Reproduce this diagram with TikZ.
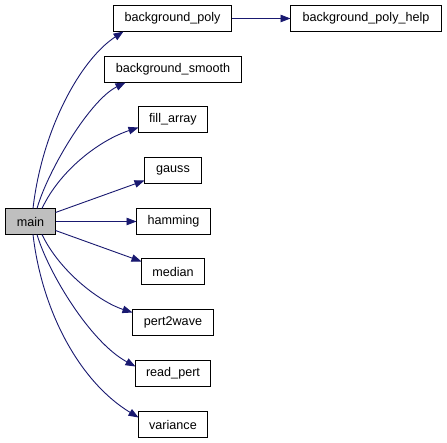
\documentclass[tikz,border=0pt]{standalone}
\usepackage{fontspec}
\setmainfont{Liberation Sans}
\usetikzlibrary{arrows.meta}
\definecolor{edgeblue}{HTML}{191970}
\definecolor{maingray}{HTML}{BFBFBF}
\tikzset{
  funcbox/.style={draw=black, line width=1pt, fill=white, inner sep=0pt, outer sep=0pt, minimum height=26pt, font=\fontsize{12.6pt}{15pt}\selectfont},
  calledge/.style={draw=edgeblue, line width=0.9pt, -{Triangle[length=10pt,width=7.5pt]}},
}
\begin{document}
\begin{tikzpicture}[x=1pt,y=-1pt]
\fill[white] (0,0) rectangle (447,443);
\useasboundingbox (0,0) rectangle (447,443);
\node[funcbox, fill=maingray, minimum width=50pt] (main) at (30.5,221.5) {main};
\node[funcbox, minimum width=118pt] (bgpoly) at (172.5,18.5) {background\_poly};
\node[funcbox, minimum width=151pt] (bgpolyhelp) at (366,18.5) {background\_poly\_help};
\node[funcbox, minimum width=137pt] (bgsmooth) at (173,69.5) {background\_smooth};
\node[funcbox, minimum width=69pt] (fill) at (173,119.5) {fill\_array};
\node[funcbox, minimum width=57pt] (gauss) at (173,170.5) {gauss};
\node[funcbox, minimum width=74pt] (hamming) at (173.5,221.5) {hamming};
\node[funcbox, minimum width=63pt] (median) at (173,271.5) {median};
\node[funcbox, minimum width=81pt] (pert) at (173,322.5) {pert2wave};
\node[funcbox, minimum width=75pt] (readpert) at (173,373.5) {read\_pert};
\node[funcbox, minimum width=69pt] (variance) at (173,424.5) {variance};

\draw[calledge] (bgpoly.east) -- (bgpolyhelp.west);
\draw[calledge] ([xshift=2.5pt]main.north) .. controls (42,130) and (80,60) .. ([xshift=10pt]bgpoly.south west);
\draw[calledge] ([xshift=6.5pt]main.north) .. controls (48,170) and (90,100) .. ([xshift=21pt]bgsmooth.south west);
\draw[calledge] ([xshift=11.5pt]main.north) .. controls (60,170) and (100,140) .. ([yshift=5pt]fill.south west);
\draw[calledge] ([yshift=9pt]main.east) -- ([yshift=3pt]gauss.south west);
\draw[calledge] (main.east) -- (hamming.west);
\draw[calledge] ([yshift=-9pt]main.east) -- ([yshift=-3pt]median.north west);
\draw[calledge] ([xshift=11.5pt]main.south) .. controls (60,272) and (100,302) .. ([yshift=-3pt]pert.north west);
\draw[calledge] ([xshift=6.5pt]main.south) .. controls (48,272) and (90,342) .. ([yshift=-6pt]readpert.north west);
\draw[calledge] ([xshift=2.5pt]main.south) .. controls (42,312) and (80,382) .. ([yshift=-6pt]variance.north west);
\end{tikzpicture}
\end{document}
